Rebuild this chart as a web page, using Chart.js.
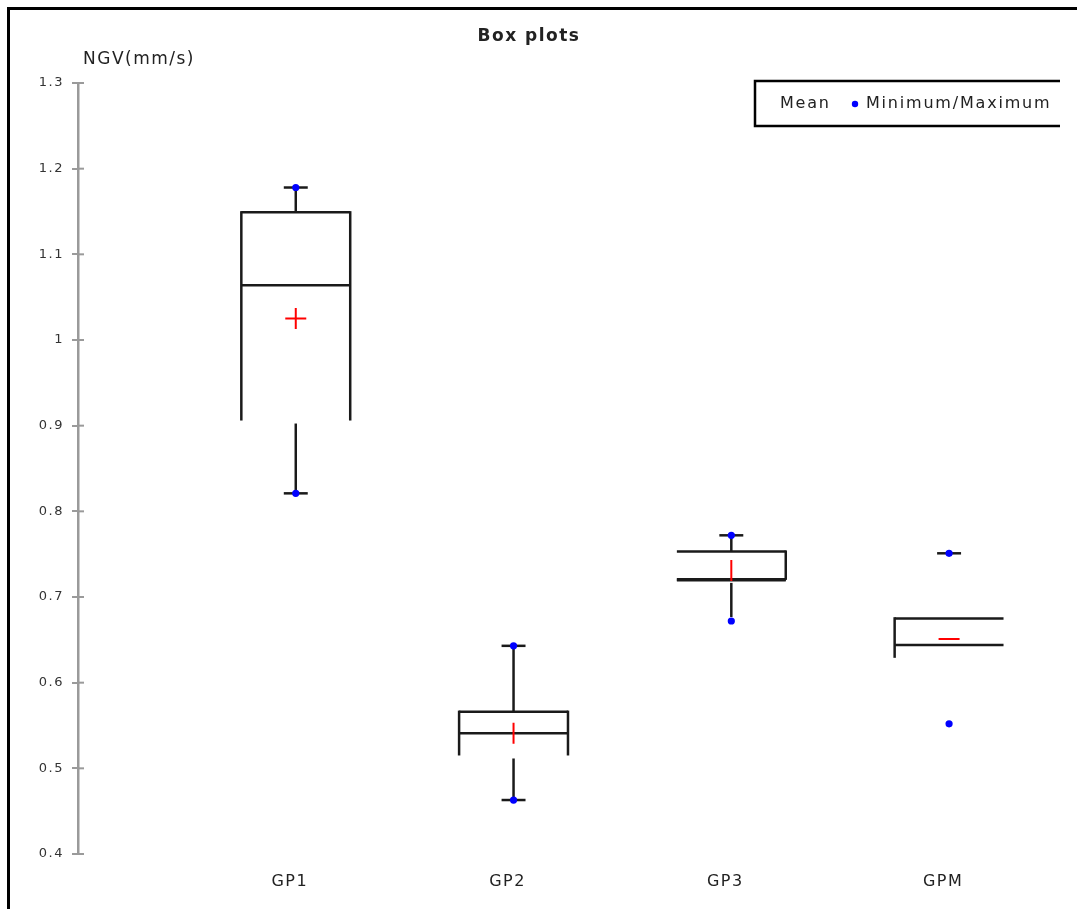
<!DOCTYPE html>
<html>
<head>
<meta charset="utf-8">
<title>Box plots</title>
<script src="https://cdn.jsdelivr.net/npm/chart.js@4"></script>
<style>
  html, body { margin: 0; padding: 0; background: #fff; }
  #wrap { position: relative; width: 1077px; height: 909px; overflow: hidden; }
  #frame { position: absolute; left: 7px; top: 7px; width: 1100px; height: 940px;
           border-left: 3px solid #000; border-top: 3px solid #000; pointer-events: none; }
</style>
</head>
<body>
<div id="wrap">
  <canvas id="chart" width="1077" height="909"></canvas>
  <div id="frame"></div>
</div>
<script>
// NGV per group (mm/s)
const groups = ["GP1", "GP2", "GP3", "GPM"];
const minima  = [0.821, 0.463, 0.672, 0.552];
const q1      = [0.906, 0.515, 0.720, 0.629];
const medians = [1.064, 0.541, 0.720, 0.644];
const q3      = [1.149, 0.566, 0.753, 0.675];
const maxima  = [1.178, 0.643, 0.772, 0.751];
const means   = [1.025, 0.541, 0.731, 0.651];
const yTicks  = [0.4, 0.5, 0.6, 0.7, 0.8, 0.9, 1, 1.1, 1.2, 1.3];

// which parts of each box get drawn
const showLeft     = [true, true, false, true];
const showRight    = [true, true, true, false];
const showBottom   = [false, false, true, false];
const showWhiskers = [true, true, true, false];
const capMin       = [true, true, false, false];
const meanStyle    = ["cross", "line", "line", "line"];
const meanRotation = [0, 90, 90, 0];

const INK = "#1a1a1a";
const AXIS = "#9a9a9a";
const BOX_HALF = 0.25;   // half box width in x units
const CAP_HALF = 0.055;

const boxPlugin = {
  id: "boxes",
  beforeDraw(chart) {
    // slightly wide-set text for the axis labels
    chart.ctx.letterSpacing = "1.5px";
  },
  beforeDatasetsDraw(chart) {
    const { ctx, scales: { x, y } } = chart;
    ctx.save();
    ctx.strokeStyle = INK;
    ctx.lineWidth = 2.5;
    ctx.lineCap = "butt";
    const seg = (x0, y0, x1, y1) => {
      ctx.beginPath(); ctx.moveTo(x0, y0); ctx.lineTo(x1, y1); ctx.stroke();
    };
    groups.forEach((g, i) => {
      const cx = x.getPixelForValue(i + 1);
      const l = x.getPixelForValue(i + 1 - BOX_HALF);
      const r = x.getPixelForValue(i + 1 + BOX_HALF);
      const yq1 = y.getPixelForValue(q1[i]);
      const yq3 = y.getPixelForValue(q3[i]);
      const ymed = y.getPixelForValue(medians[i]);
      const ymin = y.getPixelForValue(minima[i]);
      const ymax = y.getPixelForValue(maxima[i]);
      const capL = x.getPixelForValue(i + 1 - CAP_HALF);
      const capR = x.getPixelForValue(i + 1 + CAP_HALF);

      seg(l, yq3, r, yq3);
      seg(l, ymed, r, ymed);
      if (showBottom[i]) { ctx.lineWidth = 3.5; seg(l, yq1, r, yq1); ctx.lineWidth = 2.5; }
      if (showLeft[i]) seg(l, yq3 - 1.2, l, yq1);
      if (showRight[i]) seg(r, yq3 - 1.2, r, yq1);
      if (showWhiskers[i]) {
        seg(cx, yq3, cx, ymax);
        seg(cx, yq1 + 3, cx, capMin[i] ? ymin : ymin - 4);
      }
      seg(capL, ymax, capR, ymax);
      if (capMin[i]) seg(capL, ymin, capR, ymin);
    });
    ctx.restore();
  },
  afterDraw(chart) {
    const { ctx, scales: { y }, chartArea } = chart;
    ctx.save();
    // inner half of the y tick marks
    ctx.strokeStyle = AXIS;
    ctx.lineWidth = 2;
    yTicks.forEach(v => {
      const py = y.getPixelForValue(v);
      ctx.beginPath(); ctx.moveTo(chartArea.left, py); ctx.lineTo(chartArea.left + 6, py); ctx.stroke();
    });
    // title and unit label
    ctx.fillStyle = "#222";
    ctx.textBaseline = "middle";
    ctx.textAlign = "center";
    ctx.letterSpacing = "1.5px";
    ctx.font = "bold 17px 'DejaVu Sans'";
    ctx.fillText("Box plots", 529, 37);
    ctx.textAlign = "left";
    ctx.font = "17px 'DejaVu Sans'";
    ctx.fillText("NGV(mm/s)", 83, 60);
    // legend
    ctx.strokeStyle = "#000";
    ctx.lineWidth = 2.5;
    ctx.beginPath();
    ctx.moveTo(1060, 81); ctx.lineTo(755, 81); ctx.lineTo(755, 126); ctx.lineTo(1060, 126);
    ctx.stroke();
    ctx.letterSpacing = "1.8px";
    ctx.font = "16px 'DejaVu Sans'";
    ctx.fillStyle = "#222";
    ctx.fillText("Mean", 780, 104);
    ctx.fillStyle = "#0000ff";
    ctx.beginPath(); ctx.arc(855, 104, 3.2, 0, Math.PI * 2); ctx.fill();
    ctx.fillStyle = "#222";
    ctx.fillText("Minimum/Maximum", 866, 104);
    ctx.restore();
  }
};

const meanPoints = groups.map((g, i) => ({ x: i + 1, y: means[i] }));
const extremePoints = groups.flatMap((g, i) => [
  { x: i + 1, y: minima[i] },
  { x: i + 1, y: maxima[i] }
]);

new Chart(document.getElementById("chart"), {
  type: "scatter",
  data: {
    datasets: [
      {
        label: "Minimum/Maximum",
        data: extremePoints,
        pointStyle: "circle",
        pointRadius: 3.6,
        pointBackgroundColor: "#0000ff",
        pointBorderWidth: 0
      },
      {
        label: "Mean",
        data: meanPoints,
        pointStyle: meanStyle,
        pointRotation: meanRotation,
        pointRadius: 10.5,
        pointBorderColor: "#ff0000",
        pointBorderWidth: 2
      }
    ]
  },
  options: {
    responsive: false,
    animation: false,
    devicePixelRatio: 1,
    events: [],
    layout: { padding: { top: 83, left: 0, right: 0, bottom: 0 } },
    plugins: { legend: { display: false }, title: { display: false }, tooltip: { enabled: false } },
    scales: {
      x: {
        type: "linear",
        min: 0,
        max: 4.53,
        border: { display: false },
        grid: { display: false, drawTicks: false },
        afterFit: s => { s.height = 55; },
        afterBuildTicks: s => { s.ticks = groups.map((g, i) => ({ value: i + 1 })); },
        ticks: {
          padding: 18,
          labelOffset: -6,
          maxRotation: 0,
          autoSkip: false,
          color: "#222",
          font: { family: "DejaVu Sans", size: 16 },
          callback: v => groups[Math.round(v) - 1] || ""
        }
      },
      y: {
        min: 0.4,
        max: 1.3,
        border: { display: true, color: AXIS, width: 2.5 },
        grid: { drawOnChartArea: false, drawTicks: true, tickLength: 6, color: AXIS, lineWidth: 2 },
        afterFit: s => { s.width = 78; },
        afterBuildTicks: s => { s.ticks = yTicks.map(v => ({ value: v })); },
        ticks: {
          padding: 8,
          color: "#333",
          font: { family: "DejaVu Sans", size: 13 },
          callback: v => String(+Number(v).toFixed(1))
        }
      }
    }
  },
  plugins: [boxPlugin]
});
</script>
</body>
</html>
